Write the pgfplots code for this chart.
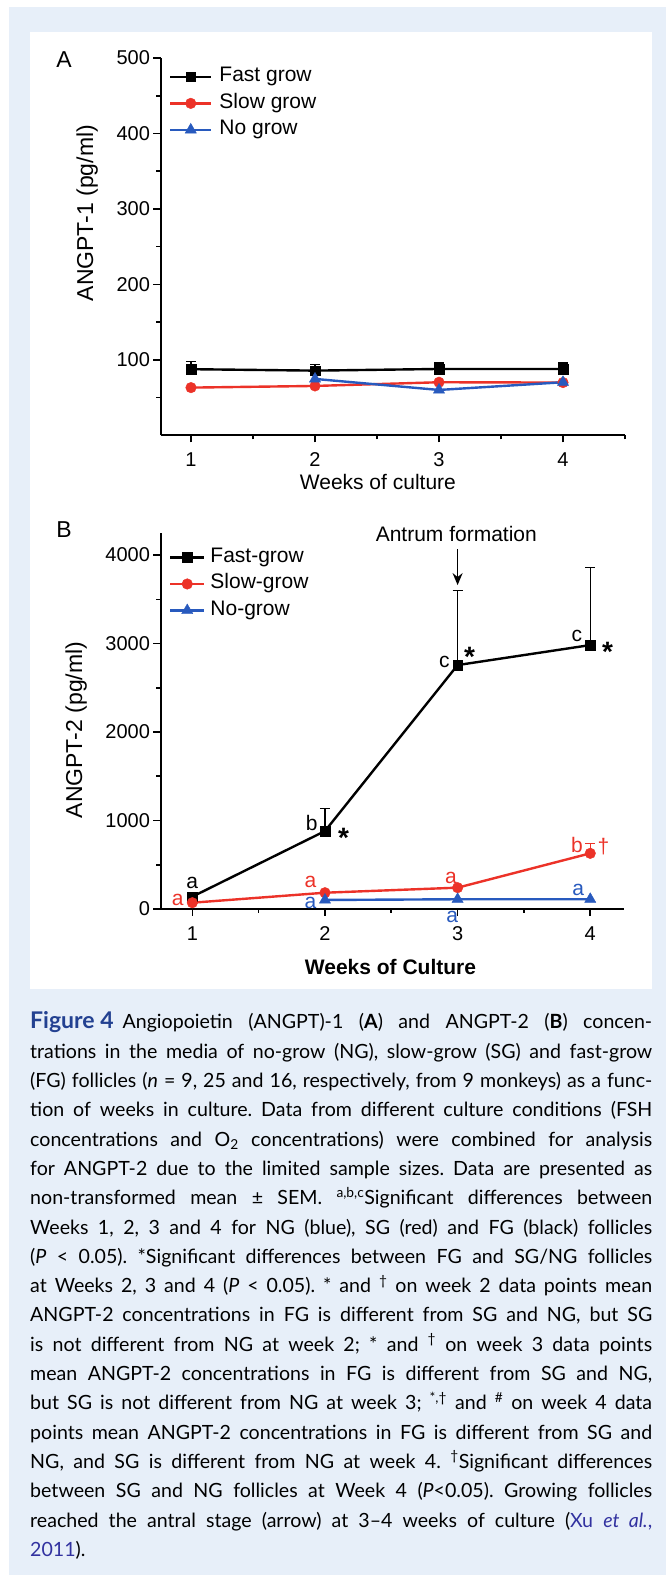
\documentclass[border=0pt]{standalone}
\usepackage{fontspec}
\setmainfont{Liberation Sans}
\newfontfamily\capfont{Lato}
\usepackage{pgfplots}
\pgfplotsset{compat=1.18}
\usetikzlibrary{arrows.meta}

\definecolor{bgblue}{RGB}{231,239,249}
\definecolor{fgred}{RGB}{236,50,40}
\definecolor{ngblue}{RGB}{40,90,190}
\definecolor{figblue}{RGB}{35,65,145}
\definecolor{linkblue}{RGB}{50,50,160}

\newcommand{\tickfont}{\fontsize{20}{24}\selectfont}
\newcommand{\labfont}{\fontsize{21}{25}\selectfont}

\pgfplotsset{
  panel/.style={
    scale only axis, anchor=south west, clip=false,
    axis x line*=bottom, axis y line*=left,
    axis line style={line width=2pt, black},
    tick align=outside,
    major tick length=7pt, minor tick length=4pt,
    every tick/.style={black, line width=1.6pt},
    xtick={1,2,3,4}, minor xtick={1.5,2.5,3.5,4.5},
    tick label style={font=\tickfont},
    xticklabel style={yshift=-7pt},
    /pgf/number format/assume math mode=true,
    /pgf/number format/1000 sep={},
    label style={font=\labfont},
    ylabel style={font=\fontsize{23}{27}\selectfont},
    legend cell align=left,
    legend style={draw=none, fill=none, font=\labfont, anchor=north west,
      inner sep=0pt, row sep=6.5pt,
      nodes={inner sep=0pt, text height=15pt, text depth=5pt}},
  },
  ebar/.style={error bars/.cd, y dir=plus, y explicit,
    error mark options={rotate=90, mark size=5pt, line width=1.4pt},
    error bar style={line width=1.4pt}},
  fg/.style={black, line width=2.4pt, mark=square*, mark size=4.8pt, mark options={solid, line width=0.4pt}},
  sg/.style={fgred, line width=2.4pt, mark=*, mark size=5.3pt, mark options={solid, line width=0.4pt}},
  ng/.style={ngblue, line width=2.4pt, mark=triangle*, mark size=6.5pt, mark options={solid, line width=0.4pt}},
}

\begin{document}
\begin{tikzpicture}[x=1pt,y=1pt]
\fill[white] (0,0) rectangle (666,1575);
\fill[bgblue] (8.5,0) rectangle (666,1568.3);
\fill[white] (30,586) rectangle (652,1543);

% panel A
\node[font=\fontsize{23}{27}\selectfont] at (64,1515) {A};
\begin{axis}[panel, at={(160.5pt,1139.6pt)}, width=464.5pt, height=377.4pt,
  xmin=0.754, xmax=4.5, ymin=0, ymax=500,
  ytick={100,200,300,400,500}, minor ytick={50,150,250,350,450},
  xlabel={Weeks of culture}, ylabel={ANGPT-1 (pg/ml)},
  xlabel style={at={(axis description cs:0.468,-0.1245)}, anchor=center},
  ylabel style={at={(axis description cs:-0.158,0.589)}, anchor=center},
  legend image code/.code={
    \draw[mark repeat=2,mark phase=2,#1] plot coordinates {(0pt,0pt) (20.5pt,0pt) (41pt,0pt)};},
  legend style={at={(axis description cs:0.018,0.977)}, column sep=7pt},
]
\addplot[fg, ebar] coordinates {(1,87.7) +- (0,10) (2,85.8) +- (0,8) (3,88) +- (0,8) (4,88) +- (0,8)};
\addplot[sg] coordinates {(1,63.3) (2,65.5) (3,70.4) (4,70)};
\addplot[ng] coordinates {(2,74.8) (3,60.2) (4,70.4)};
\legend{Fast grow, Slow grow, No grow}
\end{axis}

% panel B
\node[font=\fontsize{23}{27}\selectfont] at (64,1045) {B};
\begin{axis}[panel, at={(160.5pt,666pt)}, width=463.7pt, height=376pt,
  xmin=0.76, xmax=4.256, ymin=0, ymax=4250,
  ytick={0,1000,2000,3000,4000}, minor ytick={500,1500,2500,3500},
  minor xtick={1.5,2.5,3.5},
  xlabel={\textbf{Weeks of Culture}}, ylabel={ANGPT-2 (pg/ml)},
  xlabel style={at={(axis description cs:0.496,-0.154)}, anchor=center},
  ylabel style={at={(axis description cs:-0.182,0.476)}, anchor=center},
  legend image code/.code={
    \draw[mark repeat=2,mark phase=2,#1] plot coordinates {(0pt,0pt) (17pt,0pt) (34pt,0pt)};},
  legend style={at={(axis description cs:0.018,0.962)}, column sep=5pt},
]
\addplot[fg, ebar] coordinates {(1,139) (2,881) +- (0,257) (3,2757) +- (0,840) (4,2983) +- (0,878)};
\addplot[sg, ebar] coordinates {(1,71) (2,184) (3,241) (4,629) +- (0,113)};
\addplot[ng] coordinates {(2,102) (3,110) (4,110)};
\legend{Fast-grow, Slow-grow, No-grow}

\draw[-{Stealth[length=12pt,width=10pt]}, line width=1.6pt] (axis cs:3,4068) -- (axis cs:3,3661);
\node[font=\labfont] at (axis cs:2.99,4234) {Antrum formation};
\begin{scope}[every node/.style={font=\labfont}]
\node at (axis cs:1,294) {a};
\node at (axis cs:1.9,970) {b};
\node at (axis cs:2.9,2790) {c};
\node at (axis cs:3.9,3088) {c};
\node[font=\fontsize{28}{30}\selectfont\bfseries] at (axis cs:2.14,800) {*};
\node[font=\fontsize{28}{30}\selectfont\bfseries] at (axis cs:3.09,2855) {*};
\node[font=\fontsize{28}{30}\selectfont\bfseries] at (axis cs:4.13,2911) {*};
\node[fgred] at (axis cs:0.89,100) {a};
\node[fgred] at (axis cs:1.89,308) {a};
\node[fgred] at (axis cs:2.95,347) {a};
\node[fgred] at (axis cs:3.9,723) {b};
\node[fgred] at (axis cs:4.1,704) {\dag};
\node[ngblue] at (axis cs:1.89,68) {a};
\node[ngblue] at (axis cs:2.96,-87) {a};
\node[ngblue] at (axis cs:3.91,215) {a};
\end{scope}
\end{axis}

% caption
\node[anchor=base west, inner sep=0pt] at (30,546) {\vtop{\hsize=622pt
\capfont\fontsize{19.6}{29.3}\selectfont\frenchspacing
\hbox to\hsize{\hbox{\color{figblue}\bfseries\fontsize{23}{26}\selectfont Figure 4}\hskip 9pt Angiopoietin (ANGPT)-1 (\textbf{A}) and ANGPT-2 (\textbf{B}) concen-}
\hbox to\hsize{trations in the media of no-grow (NG), slow-grow (SG) and fast-grow}
\hbox to\hsize{(FG) follicles (\textit{n} = 9, 25 and 16, respectively, from 9 monkeys) as a func-}
\hbox to\hsize{tion of weeks in culture. Data from different culture conditions (FSH}
\hbox to\hsize{concentrations and O\textsubscript{2} concentrations) were combined for analysis}
\hbox to\hsize{for ANGPT-2 due to the limited sample sizes. Data are presented as}
\hbox to\hsize{non-transformed mean ± SEM. \textsuperscript{a,b,c}Significant differences between}
\hbox to\hsize{Weeks 1, 2, 3 and 4 for NG (blue), SG (red) and FG (black) follicles}
\hbox to\hsize{(\textit{P} < 0.05). *Significant differences between FG and SG/NG follicles}
\hbox to\hsize{at Weeks 2, 3 and 4 (\textit{P} < 0.05). * and \textsuperscript{†} on week 2 data points mean}
\hbox to\hsize{ANGPT-2 concentrations in FG is different from SG and NG, but SG}
\hbox to\hsize{is not different from NG at week 2; * and \textsuperscript{†} on week 3 data points}
\hbox to\hsize{mean ANGPT-2 concentrations in FG is different from SG and NG,}
\hbox to\hsize{but SG is not different from NG at week 3; \textsuperscript{*,†} and \textsuperscript{\#} on week 4 data}
\hbox to\hsize{points mean ANGPT-2 concentrations in FG is different from SG and}
\hbox to\hsize{NG, and SG is different from NG at week 4. \textsuperscript{†}Significant differences}
\hbox to\hsize{between SG and NG follicles at Week 4 (\textit{P}<0.05). Growing follicles}
\hbox to\hsize{reached the antral stage (arrow) at 3–4 weeks of culture ({\color{linkblue}Xu \textit{et al.},}}
\hbox{{\color{linkblue}2011})\kern0pt.}
}};
\pgfresetboundingbox
\useasboundingbox (0,0) rectangle (666,1575);
\end{tikzpicture}
\end{document}
